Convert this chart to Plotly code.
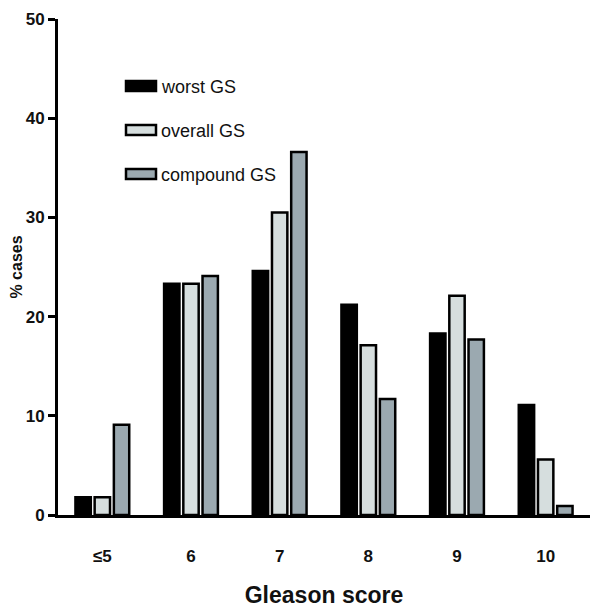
import plotly.graph_objects as go

categories = ["≤5", "6", "7", "8", "9", "10"]
worst_gs = [1.8, 23.3, 24.6, 21.2, 18.3, 11.1]
overall_gs = [1.8, 23.3, 30.5, 17.1, 22.1, 5.6]
compound_gs = [9.1, 24.1, 36.6, 11.7, 17.7, 0.9]
series_names = ["worst GS", "overall GS", "compound GS"]
series_colors = ["#000000", "#d6dede", "#9ba9b0"]
y_ticks = [0, 10, 20, 30, 40, 50]

FONT = "Liberation Sans, Arial, sans-serif"
OFF = 8  # default page body margin
W, H = 600 - OFF, 614 - OFF
L, T = 58 - OFF, 19 - OFF
PW, PH = 532, 496
R, B = W - L - PW, H - T - PH

fig = go.Figure()
for name, vals, col in zip(series_names, [worst_gs, overall_gs, compound_gs], series_colors):
    fig.add_trace(go.Bar(x=categories, y=vals, name=name, marker=dict(color=col, line=dict(color="#000000", width=2.5)),
                         showlegend=False))

# manual legend (wide swatches); page-pixel positions converted to paper coords
def px2paper(px, py):
    return (px - OFF - L) / PW, (T + PH - (py - OFF)) / PH

shapes = []
annotations = []
for i, (name, col) in enumerate(zip(series_names, series_colors)):
    cy = 86 + i * 44
    x0, y0 = px2paper(126, cy + 5)
    x1, y1 = px2paper(156, cy - 5)
    shapes.append(dict(type="rect", xref="paper", yref="paper", x0=x0, y0=y0, x1=x1, y1=y1,
                       fillcolor=col, line=dict(color="#000000", width=2.5)))
    tx, ty = px2paper(159, cy + 1)
    annotations.append(dict(xref="paper", yref="paper", x=tx, y=ty, text=name, showarrow=False,
                            xanchor="left", yanchor="middle", font=dict(family=FONT, size=18, color="#111111")))

fig.update_layout(
    width=W, height=H,
    margin=dict(l=L, r=R, t=T, b=B),
    plot_bgcolor="white", paper_bgcolor="white",
    barmode="group", bargap=0.35, bargroupgap=0.2,
    shapes=shapes, annotations=annotations,
    xaxis=dict(showline=True, linecolor="#000000", linewidth=3, ticks="", showgrid=False, automargin=False,
               tickfont=dict(family=FONT, size=17, color="#111111", weight="bold"),
               ticklabelstandoff=24,
               title=dict(text="Gleason score", font=dict(family=FONT, size=23, color="#111111", weight="bold"), standoff=22)),
    yaxis=dict(range=[0, 50], tickvals=y_ticks, showline=True, linecolor="#000000", linewidth=3, automargin=False,
               ticks="outside", ticklen=7, tickwidth=3, tickcolor="#000000", showgrid=False, zeroline=False,
               ticklabeloverflow="allow",
               tickfont=dict(family=FONT, size=17, color="#111111", weight="bold"),
               title=dict(text="% cases", font=dict(family=FONT, size=16, color="#111111", weight="bold"), standoff=6)),
)

fig.write_html("out.html")
